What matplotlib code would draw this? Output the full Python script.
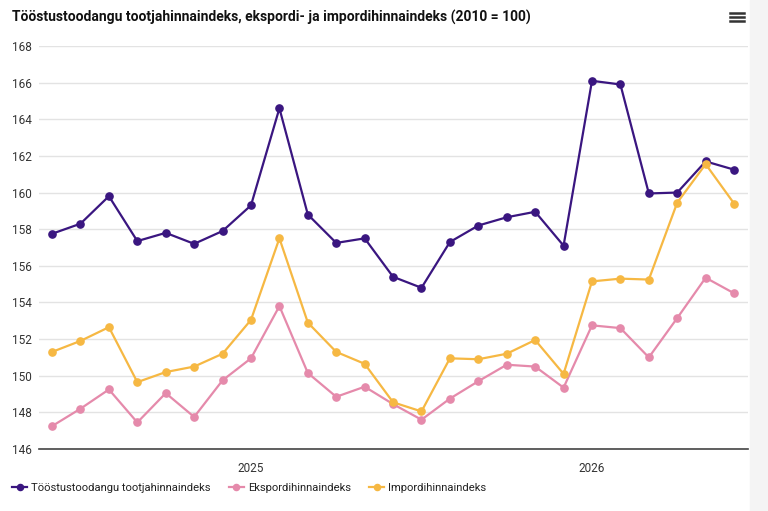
import numpy as np
import matplotlib
matplotlib.use("Agg")
import matplotlib.pyplot as plt
from matplotlib.lines import Line2D
from matplotlib.patches import Rectangle

plt.rcParams["font.family"] = ["Roboto", "DejaVu Sans"]

# monthly values, June 2024 .. June 2026
tootja = [157.75, 158.3, 159.8, 157.35, 157.8, 157.2, 157.9, 159.3, 164.6, 158.8,
          157.25, 157.5, 155.4, 154.8, 157.3, 158.2, 158.65, 158.95, 157.1, 166.1,
          165.9, 159.95, 160.0, 161.7, 161.25]
eksport = [147.25, 148.2, 149.25, 147.45, 149.05, 147.75, 149.75, 150.95, 153.8, 150.15,
           148.85, 149.4, 148.45, 147.6, 148.75, 149.7, 150.6, 150.5, 149.35, 152.75,
           152.6, 151.0, 153.15, 155.35, 154.5]
import_ = [151.3, 151.9, 152.65, 149.65, 150.2, 150.5, 151.2, 153.05, 157.5, 152.9,
           151.3, 150.65, 148.55, 148.05, 150.95, 150.9, 151.2, 151.95, 150.1, 155.15,
           155.3, 155.25, 159.45, 161.55, 159.4]
year_ticks = [7, 19]
year_labels = ["2025", "2026"]
series_names = ["Tööstustoodangu tootjahinnaindeks", "Ekspordihinnaindeks", "Impordihinnaindeks"]
colors = ["#3a1680", "#e58aab", "#f6b843"]

W, H = 768, 511
fig = plt.figure(figsize=(W / 100, H / 100), dpi=100)
fig.patches.append(Rectangle((750 / W, 0), 18 / W, 1, transform=fig.transFigure,
                             color="#f4f4f4", zorder=0))

ax = fig.add_axes([39 / W, (H - 449) / H, (748 - 39) / W, (449 - 46) / H])
x = np.arange(len(tootja))
handles = []
for vals, name, col in zip([tootja, eksport, import_], series_names, colors):
    h, = ax.plot(x, vals, color=col, lw=1.6, marker="o", ms=5.2, label=name,
                 solid_joinstyle="round", clip_on=False)
    handles.append(h)

ax.set_xlim(-0.46, 24.49)
ax.set_ylim(146, 168)
ax.set_yticks(np.arange(146, 169, 2))
ax.set_xticks(year_ticks)
ax.set_xticklabels(year_labels)
ax.grid(axis="y", color="#e3e3e3", lw=1)
ax.set_axisbelow(True)
for s in ["top", "right", "left"]:
    ax.spines[s].set_visible(False)
ax.spines["bottom"].set_color("#444444")
ax.spines["bottom"].set_linewidth(1.2)
ax.tick_params(axis="y", length=0, pad=9, labelsize=8.5, labelcolor="#333333")
ax.tick_params(axis="x", length=0, pad=9, labelsize=8.5, labelcolor="#333333")
for lab in ax.get_yticklabels():
    lab.set_horizontalalignment("left")
    lab.set_x(-14.5 / (748 - 39))

fig.text(12 / W, 1 - 17 / H, "Tööstustoodangu tootjahinnaindeks, ekspordi- ja impordihinnaindeks (2010 = 100)",
         fontsize=10.0, fontweight="bold", va="center", ha="left", color="#111111")

# menu icon
for yy in [13, 17, 21]:
    fig.add_artist(Line2D([730 / W, 744 / W], [1 - yy / H] * 2, color="#333333", lw=1.8))

fig.legend(handles=handles, loc="center left", bbox_to_anchor=(12 / W, 1 - 488 / H),
           ncol=3, frameon=False, fontsize=8.15, handlelength=1.35, handletextpad=0.35,
           columnspacing=1.6, labelcolor="#222222", borderpad=0, borderaxespad=0,
           markerscale=0.85)

fig.savefig("out.png", dpi=100, facecolor="white")
